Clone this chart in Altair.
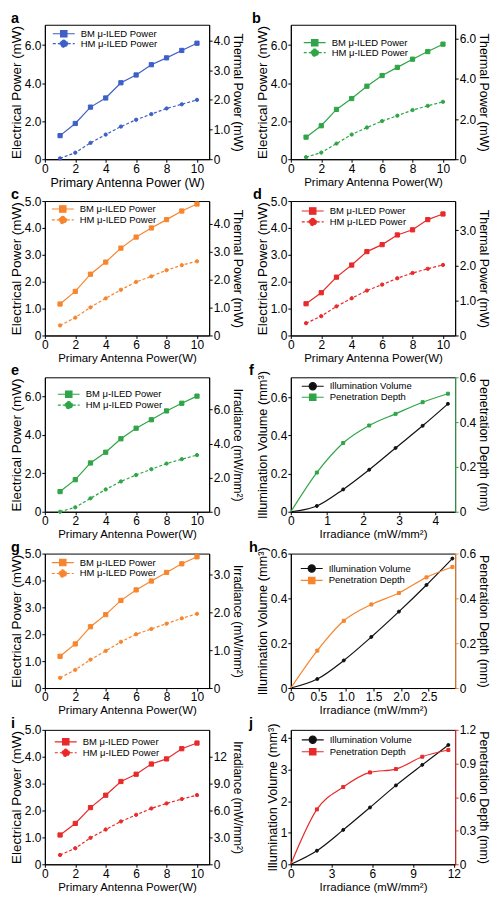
import altair as alt
import pandas as pd

FONT = "Liberation Sans"
BLUE = "#3e5fc8"
GREEN = "#2fa547"
ORANGE = "#f7852d"
RED = "#e82a2a"
BLACK = "#111111"

# ---------------- data ----------------
power = [1, 2, 3, 4, 5, 6, 7, 8, 9, 10]

a_bm = [1.24, 1.88, 2.74, 3.22, 4.02, 4.43, 4.97, 5.33, 5.72, 6.10]
a_hm = [0.03, 0.22, 0.55, 0.83, 1.10, 1.33, 1.52, 1.71, 1.85, 2.00]
b_bm = [1.16, 1.76, 2.62, 3.19, 3.84, 4.40, 4.83, 5.26, 5.66, 6.05]
b_hm = [0.10, 0.33, 0.78, 1.23, 1.58, 1.90, 2.17, 2.45, 2.66, 2.86]
c_bm = [1.17, 1.64, 2.28, 2.73, 3.25, 3.66, 4.00, 4.31, 4.63, 4.89]
c_hm = [0.36, 0.64, 1.01, 1.33, 1.64, 1.92, 2.12, 2.34, 2.52, 2.66]
d_bm = [1.18, 1.59, 2.17, 2.62, 3.12, 3.38, 3.74, 3.93, 4.31, 4.52]
d_hm = [0.35, 0.55, 0.83, 1.06, 1.28, 1.45, 1.63, 1.78, 1.90, 2.01]
e_bm = [1.05, 1.67, 2.54, 3.10, 3.80, 4.35, 4.79, 5.25, 5.65, 6.02]
e_hm = [0.00, 0.26, 0.79, 1.31, 1.78, 2.16, 2.50, 2.83, 3.09, 3.33]
g_bm = [1.18, 1.64, 2.28, 2.73, 3.26, 3.65, 3.98, 4.30, 4.62, 4.88]
g_hm = [0.27, 0.48, 0.75, 0.98, 1.22, 1.42, 1.56, 1.70, 1.84, 1.96]
i_bm = [1.09, 1.52, 2.11, 2.57, 3.08, 3.35, 3.73, 3.92, 4.30, 4.51]
i_hm = [1.04, 1.79, 2.95, 3.88, 4.78, 5.52, 6.23, 6.79, 7.28, 7.72]

f_irr = [0, 0.72, 1.45, 2.17, 2.90, 3.65, 4.35]
f_iv = [0, 0.030, 0.117, 0.220, 0.334, 0.450, 0.565]
f_pd = [0, 0.175, 0.307, 0.385, 0.437, 0.489, 0.527]

h_irr = [0, 0.48, 0.96, 1.46, 1.96, 2.46, 2.93]
h_iv = [0, 0.040, 0.123, 0.228, 0.341, 0.460, 0.578]
h_pd = [0, 0.167, 0.300, 0.373, 0.424, 0.494, 0.540]

j_irr = [0, 1.92, 3.86, 5.83, 7.74, 9.68, 11.6]
j_iv = [0, 0.43, 1.09, 1.80, 2.50, 3.15, 3.78]
j_pd = [0, 0.49, 0.69, 0.82, 0.85, 0.96, 1.02]

# ---------------- text ----------------
BM = "BM μ-ILED Power"
HM = "HM μ-ILED Power"
IV = "Illumination Volume"
PD = "Penetration Depth"
X_PAP_A = "Primary Antenna Power (W)"
X_PAP = "Primary Antenna Power(W)"
X_IRR = "Irradiance (mW/mm²)"
Y_EP = "Electrical Power (mW)"
Y_TP = "Thermal Power (mW)"
Y_IRR = "Irradiance (mW/mm²)"
Y_IV = "Illumination Volume (mm³)"
Y_PD = "Penetration Depth (mm)"

DEC1 = "datum.value == 0 ? '0' : format(datum.value, '.1f')"
INT = "format(datum.value, 'd')"
MIX = "datum.value == 0 ? '0' : (datum.value >= 10 ? format(datum.value, 'd') : format(datum.value, '.1f'))"

# legend symbols: short line with a marker in the middle
K = 0.9 * 0.5523
LINE = "M-2.75,0L2.75,0"
SQ = "M-0.8,-0.8L0.8,-0.8L0.8,0.8L-0.8,0.8Z"
CI = (f"M0.9,0C0.9,{K:.3f},{K:.3f},0.9,0,0.9C-{K:.3f},0.9,-0.9,{K:.3f},-0.9,0"
      f"C-0.9,-{K:.3f},-{K:.3f},-0.9,0,-0.9C{K:.3f},-0.9,0.9,-{K:.3f},0.9,0Z")
SYM_SQ = LINE + SQ
SYM_CI = LINE + CI
DASH = [3, 2]

W, H = 165, 135


def legend_for(sym, dash, lx, row):
    kw = dict(orient="none", legendX=lx + 6, legendY=row - 5, title=None,
              symbolType=sym, symbolSize=64, symbolStrokeWidth=1.2, symbolOpacity=1,
              labelFont=FONT, labelFontSize=9.5, labelColor="black",
              labelOffset=12, padding=0, symbolOffset=0)
    if dash:
        kw["symbolDash"] = dash
    return alt.Legend(**kw)


def panel(p):
    df = pd.DataFrame({"x": p["x"], "y1": p["y1"], "y2": p["y2"],
                       "k1": p["n1"], "k2": p["n2"]})
    base = alt.Chart(df)
    pbase = base.transform_filter("datum.x > 0")
    xenc = alt.X("x:Q", scale=alt.Scale(domain=p["xdom"], nice=False, zero=False),
                 axis=alt.Axis(values=p["xticks"], labelExpr=p["xfmt"], title=p["xtitle"],
                               titleFontSize=p["xtfs"], titlePadding=2))
    y1 = alt.Y("y1:Q", scale=alt.Scale(domain=p["y1dom"], nice=False, zero=False),
               axis=alt.Axis(orient="left", values=p["y1ticks"], labelExpr=p["y1fmt"],
                             title=p["y1title"], titleFontSize=p["y1tfs"]))
    y2 = alt.Y("y2:Q", scale=alt.Scale(domain=p["y2dom"], nice=False, zero=False),
               axis=alt.Axis(orient="right", values=p["y2ticks"], labelExpr=p["y2fmt"],
                             title=p["y2title"], titleFontSize=p["y2tfs"],
                             domainColor=p["y2color"], tickColor=p["y2color"]))
    lk1 = dict(color=p["c1"], strokeWidth=1.2, interpolate=p["interp"])
    if p["dash1"]:
        lk1["strokeDash"] = p["dash1"]
    lk2 = dict(color=p["c2"], strokeWidth=1.2, interpolate=p["interp"])
    if p["dash2"]:
        lk2["strokeDash"] = p["dash2"]
    lx, r1, r2 = p["leg"]
    line1 = base.mark_line(**lk1).encode(x=xenc, y=y1)
    pts1 = pbase.mark_point(filled=True, shape=p["shape1"], size=p["size1"],
                            color=p["c1"], stroke=p["c1"], strokeWidth=1, opacity=1).encode(
        x=xenc, y=y1,
        opacity=alt.Opacity("k1:O", scale=alt.Scale(domain=[p["n1"]], range=[1]),
                            legend=legend_for(p["sym1"], p["dash1"], lx, r1)))
    line2 = base.mark_line(**lk2).encode(x=xenc, y=y2)
    pts2 = pbase.mark_point(filled=True, shape=p["shape2"], size=p["size2"],
                            color=p["c2"], stroke=p["c2"], strokeWidth=1, opacity=1).encode(
        x=xenc, y=y2,
        opacity=alt.Opacity("k2:O", scale=alt.Scale(domain=[p["n2"]], range=[1]),
                            legend=legend_for(p["sym2"], p["dash2"], lx, r2)))
    left = alt.layer(line1, pts1)
    right = alt.layer(line2, pts2)
    letter = alt.Chart(pd.DataFrame({"t": [p["letter"]]})).mark_text(
        font=FONT, fontSize=14.5, fontWeight="bold", align="left",
        baseline="alphabetic", color="black").encode(
        text="t:N", x=alt.value(p["lpos"]), y=alt.value(-2))
    return (alt.layer(left, right, letter)
            .resolve_scale(y="independent", opacity="independent")
            .resolve_legend(opacity="independent")
            .properties(width=W, height=H))


def power_panel(letter, bm, hm, color, y1dom, y1ticks, y2dom, y2ticks, y2fmt,
                y2title, xtitle, xtfs, leg, y2tfs=12.5, lpos=-34):
    return dict(letter=letter, x=power, y1=bm, y2=hm, n1=BM, n2=HM, c1=color, c2=color,
                shape1="square", shape2="circle", sym1=SYM_SQ, sym2=SYM_CI,
                dash1=None, dash2=DASH, size1=18, size2=11,
                xdom=[0, 10.8], xticks=[0, 2, 4, 6, 8, 10], xfmt=INT, xtitle=xtitle, xtfs=xtfs,
                y1dom=y1dom, y1ticks=y1ticks, y1fmt=DEC1, y1title=Y_EP, y1tfs=13.5,
                y2dom=y2dom, y2ticks=y2ticks, y2fmt=y2fmt, y2title=y2title, y2tfs=y2tfs,
                y2color="black", interp="linear", leg=leg, lpos=lpos)


def irr_panel(letter, irr, iv, pd_, color, xdom, xticks, xfmt, y1dom, y1ticks, y1fmt,
              y2dom, y2ticks, leg):
    return dict(letter=letter, x=irr, y1=iv, y2=pd_, n1=IV, n2=PD, c1=BLACK, c2=color,
                shape1="circle", shape2="square", sym1=SYM_CI, sym2=SYM_SQ,
                dash1=None, dash2=None, size1=9, size2=9,
                xdom=xdom, xticks=xticks, xfmt=xfmt, xtitle=X_IRR, xtfs=11.5,
                y1dom=y1dom, y1ticks=y1ticks, y1fmt=y1fmt, y1title=Y_IV, y1tfs=12.8,
                y2dom=y2dom, y2ticks=y2ticks, y2fmt=DEC1, y2title=Y_PD, y2tfs=12.5,
                y2color=color, interp="monotone", leg=leg, lpos=-42)


specs = [
    power_panel("a", a_bm, a_hm, BLUE, [0, 7.07], [0, 2, 4, 6], [0, 4.53], [0, 1, 2, 3, 4],
                DEC1, Y_TP, X_PAP_A, 12.5, (8, 9, 19)),
    power_panel("b", b_bm, b_hm, GREEN, [0, 7.07], [0, 2, 4, 6], [0, 6.7], [0, 2, 4, 6],
                DEC1, Y_TP, X_PAP, 11.5, (13, 18, 28), lpos=-39),
    power_panel("c", c_bm, c_hm, ORANGE, [0, 5.001], [0, 1, 2, 3, 4, 5], [0, 4.82],
                [0, 1, 2, 3, 4], DEC1, Y_TP, X_PAP, 11.5, (7, 8, 19)),
    power_panel("d", d_bm, d_hm, RED, [0, 5.001], [0, 1, 2, 3, 4, 5], [0, 3.83],
                [0, 1, 2, 3], DEC1, Y_TP, X_PAP, 11.5, (11, 10, 21), lpos=-38),
    power_panel("e", e_bm, e_hm, GREEN, [0, 7.0], [0, 2, 4, 6], [0, 7.9], [0, 2, 4, 6],
                DEC1, Y_IRR, X_PAP, 11.5, (13, 17, 28), y2tfs=12),
    irr_panel("f", f_irr, f_iv, f_pd, GREEN, [0, 4.55], [0, 1, 2, 3, 4], INT,
              [0, 0.704], [0, 0.2, 0.4, 0.6], DEC1, [0, 0.6001], [0, 0.2, 0.4, 0.6],
              (11, 9, 20)),
    power_panel("g", g_bm, g_hm, ORANGE, [0, 5.001], [0, 1, 2, 3, 4, 5], [0, 3.55],
                [0, 1, 2, 3], DEC1, Y_IRR, X_PAP, 11.5, (7, 9, 20), y2tfs=12),
    irr_panel("h", h_irr, h_iv, h_pd, ORANGE, [0, 2.98], [0, 0.5, 1, 1.5, 2, 2.5], DEC1,
              [0, 0.6001], [0, 0.2, 0.4, 0.6], DEC1, [0, 0.6001], [0, 0.2, 0.4, 0.6],
              (10, 15, 27)),
    power_panel("i", i_bm, i_hm, RED, [0, 5.001], [0, 1, 2, 3, 4, 5], [0, 15],
                [0, 3, 6, 9, 12], MIX, Y_IRR, X_PAP, 11.5, (10, 12, 23), y2tfs=12),
    irr_panel("j", j_irr, j_iv, j_pd, RED, [0, 12.1], [0, 3, 6, 9, 12], INT,
              [0, 4.26], [0, 1, 2, 3, 4], INT, [0, 1.2001], [0, 0.3, 0.6, 0.9, 1.2],
              (11, 10, 22)),
]

panels = [panel(p) for p in specs]

chart = (
    alt.concat(*panels, columns=2, spacing={"row": 42, "column": 82}, bounds="flush")
    .resolve_scale(opacity="independent")
    .resolve_legend(opacity="independent")
    .properties(padding=0, background="white")
    .configure_view(stroke="black", strokeWidth=1)
    .configure_axis(grid=False, labelFont=FONT, titleFont=FONT, labelFontSize=12,
                    titleFontWeight="normal", labelColor="black", titleColor="black",
                    domainColor="black", tickColor="black", tickSize=3, labelPadding=1,
                    titlePadding=1, labelFlush=False, labelOverlap=False,
                    domainWidth=1, tickWidth=1)
)

chart.save("out.html", embed_options={"renderer": "svg", "actions": False})
